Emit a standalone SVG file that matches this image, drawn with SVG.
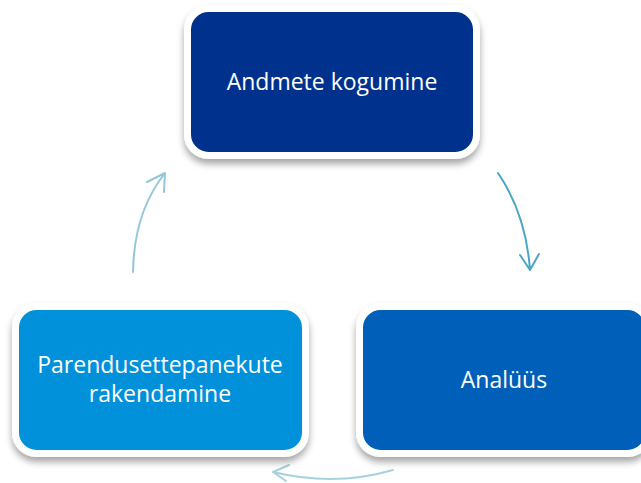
<svg xmlns="http://www.w3.org/2000/svg" width="641" height="483" viewBox="0 0 641 483">
<style>
.box{stroke:#ffffff;stroke-width:7;filter:url(#sh)}
.lbl{font-family:"Open Sans","Noto Sans","DejaVu Sans",sans-serif;font-size:23px;fill:#ffffff;text-anchor:middle}
.arr{fill:none;stroke-width:2;stroke-linecap:round;stroke-linejoin:round}
</style>
<defs>
<filter id="sh" x="-10%" y="-10%" width="120%" height="130%">
<feDropShadow dx="0" dy="5" stdDeviation="3.5" flood-color="#000000" flood-opacity="0.35"/>
</filter>
</defs>
<rect width="641" height="483" fill="#ffffff"/>
<g id="connectors">
<path class="arr" stroke="#4aa6c4" d="M498,173 Q526,214 530,270 M520,255 L530,270 L539,254"/>
<path class="arr" stroke="#a6d1df" d="M393,470 Q335,487 273,472 M289,465 L273,472 L286,481"/>
<path class="arr" stroke="#94c7da" d="M133,272 Q134,212 165,173 M147,182 L165,173 L164,192"/>
</g>
<g id="node-andmete">
<rect class="box" x="187.5" y="8.5" width="289" height="147" rx="21" fill="#00338d"/>
<text class="lbl" x="332" y="90">Andmete kogumine</text>
</g>
<g id="node-analuus">
<rect class="box" x="359.5" y="306.5" width="289" height="147" rx="21" fill="#005eb8"/>
<text class="lbl" x="504" y="388">Analüüs</text>
</g>
<g id="node-parendus">
<rect class="box" x="15.5" y="306.5" width="290" height="147" rx="21" fill="#0091da"/>
<text class="lbl" x="160" y="373">Parendusettepanekute</text>
<text class="lbl" x="160" y="402">rakendamine</text>
</g>
</svg>
